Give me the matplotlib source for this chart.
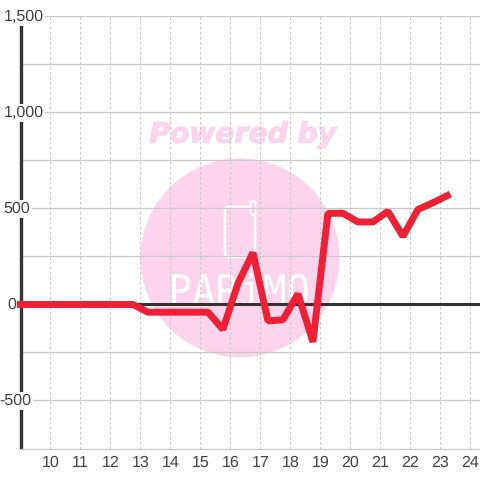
import matplotlib
matplotlib.use('Agg')
import matplotlib.pyplot as plt
import matplotlib.patheffects as pe
from matplotlib.font_manager import FontProperties
from matplotlib.patches import Circle, FancyBboxPatch, PathPatch
from matplotlib.text import TextPath
from matplotlib.transforms import Affine2D

plt.rcParams['font.family'] = ['Liberation Sans', 'DejaVu Sans']
plt.rcParams['text.hinting'] = 'no_hinting'
plt.rcParams['text.hinting_factor'] = 1

hours = [8.88, 9.25, 9.75, 10.25, 10.75, 11.25, 11.75, 12.25, 12.75, 13.25, 13.75, 14.25, 14.75, 15.25,
         15.75, 16.25, 16.75, 17.25, 17.75, 18.25, 18.75, 19.25, 19.75, 20.25, 20.75, 21.25, 21.75,
         22.25, 22.75, 23.33]
values = [0, 0, 0, 0, 0, 0, 0, 0, 0, -40, -40, -40, -40, -40,
          -130, 110, 270, -85, -80, 55, -195, 475, 475, 430, 430, 485, 355,
          495, 530, 575]
x_ticks = list(range(10, 25))
y_major = [-500, 0, 500, 1000, 1500]
y_minor = [-250, 250, 750, 1250]
y_labels = ['-500', '0', '500', '1,000', '1,500']
y_label_right = [31, 16.5, 30, 43.5, 43.5]

GREY = '#c8c8c8'
DARK = '#333333'
PINK = '#fcd5ec'
RED = '#ee2036'
TEXT = '#444444'

fig = plt.figure(figsize=(4.8, 4.8), dpi=100)
px = Affine2D().scale(1, -1).translate(0, 480)  # pixel coords, top left origin

# watermark sits behind the axes
fig.add_artist(Circle((240, 258), 99.5, color=PINK, lw=0, transform=px, zorder=0))
fig.add_artist(FancyBboxPatch((225, 207), 30, 50, boxstyle='round,pad=0,rounding_size=4', fc='none',
                              ec='white', lw=1.8, transform=px, zorder=0.5))
fig.add_artist(FancyBboxPatch((250.5, 201), 5, 14, boxstyle='round,pad=0,rounding_size=2', fc=PINK,
                              ec='white', lw=1.3, transform=px, zorder=0.6))
fig.text(242 / 480, 1 - 135 / 480, 'Powered by', color=PINK, fontsize=20.3, fontweight='bold', fontstyle='italic',
         family='DejaVu Sans', ha='center', va='center', zorder=0.5,
         path_effects=[pe.withStroke(linewidth=0.8, foreground=PINK)])

# logo word is squeezed into its box
tp = TextPath((0, 0), 'PARiMO', size=10, prop=FontProperties(family='DejaVu Sans Mono'))
bb = tp.get_extents()
word = Affine2D().translate(-bb.x0, -bb.y0).scale(136 / bb.width, 33 / bb.height).translate(172, 174)
fig.add_artist(PathPatch(tp, fc='white', ec='none', lw=0, transform=word, zorder=0.5))

ax = fig.add_axes([20.5 / 480, 1 - 448.5 / 480, 459.5 / 480, 432 / 480])
ax.set_zorder(1)
ax.patch.set_visible(False)
ax.set_xlim(9, 24.32)
ax.set_ylim(-750, 1500)

for s in ['top', 'right']:
    ax.spines[s].set_visible(False)
ax.spines['bottom'].set_color(GREY)
ax.spines['bottom'].set_linewidth(0.9)
ax.spines['left'].set_color(DARK)
ax.spines['left'].set_linewidth(2.4)
ax.spines['left'].set_capstyle('butt')
ax.spines['left'].set_zorder(1)

for v in y_major + y_minor:
    ax.axhline(v, color=GREY, lw=0.9, zorder=0.5)
for v in x_ticks:
    ax.axvline(v, color=GREY, lw=0.75, ls=(0, (2.4, 2.4)), zorder=0.5)
ax.axhline(0, color=DARK, lw=2.2, zorder=1.5)

ax.plot(hours, values, color=RED, lw=5, solid_joinstyle='bevel', solid_capstyle='butt', zorder=3, clip_on=False)

ax.set_xticks(x_ticks)
ax.set_xticklabels([str(v) for v in x_ticks])
ax.tick_params(axis='x', length=0, pad=5, labelsize=11.3, labelcolor=TEXT)
ax.set_yticks([])

# y labels have a white box that cuts the axis line
for v, lab, right in zip(y_major, y_labels, y_label_right):
    y_px = 304 - v * 96 / 500
    ax.annotate(lab, xy=(right / 480, 1 - (y_px + 1) / 480), xycoords='figure fraction', color=TEXT, fontsize=11.3,
                ha='right', va='center', zorder=2, annotation_clip=False,
                bbox=dict(fc='white', ec='none', pad=1.2))

fig.savefig('out.png', dpi=100)
